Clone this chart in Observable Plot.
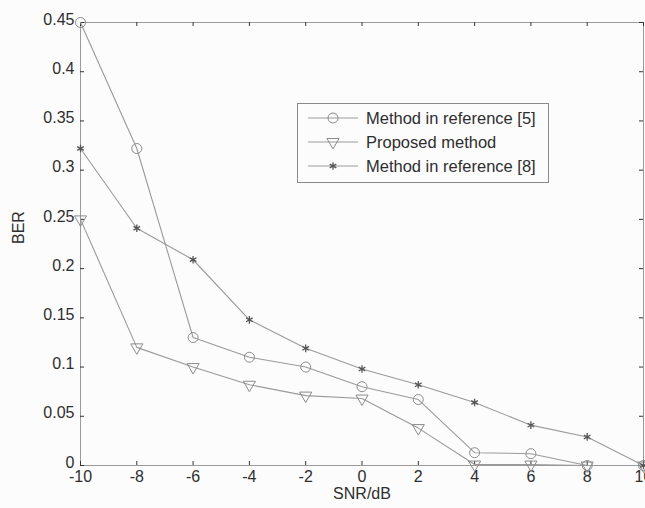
<!DOCTYPE html>
<html><head><meta charset="utf-8">
<script src="https://cdn.jsdelivr.net/npm/d3@7"></script>
<script src="https://cdn.jsdelivr.net/npm/@observablehq/plot@0.6"></script>
<style>
html,body{margin:0;padding:0;background:#fcfcfc;}
#wrap{position:relative;width:645px;height:508px;overflow:hidden;background:#fcfcfc;}
#legend{position:absolute;left:297px;top:103px;width:252px;height:80px;border:1px solid #8a8a8a;background:#fcfcfc;box-sizing:border-box;}
</style></head><body><div id="wrap"></div>
<script>
const snr = [-10, -8, -6, -4, -2, 0, 2, 4, 6, 8, 10];
const ref5 = [0.45, 0.322, 0.130, 0.110, 0.100, 0.080, 0.067, 0.013, 0.012, 0, 0];
const proposed = [0.250, 0.120, 0.100, 0.082, 0.071, 0.068, 0.038, 0.001, 0.001, 0, 0];
const ref8 = [0.322, 0.241, 0.209, 0.148, 0.119, 0.098, 0.082, 0.064, 0.041, 0.029, 0];
const seriesNames = ["Method in reference [5]", "Proposed method", "Method in reference [8]"];
const xTicks = [-10, -8, -6, -4, -2, 0, 2, 4, 6, 8, 10];
const yTicks = [0, 0.05, 0.1, 0.15, 0.2, 0.25, 0.3, 0.35, 0.4, 0.45];
const xLabel = "SNR/dB";
const yLabel = "BER";

const font = "'Liberation Sans', Arial, sans-serif";
const lineColor = "#9a9a9a";
const textColor = "#2e2e2e";
const toRows = (ys) => snr.map((x, i) => ({x, y: ys[i]}));
const d5 = toRows(ref5), dp = toRows(proposed), d8 = toRows(ref8);

const styles = [
  {symbol: "circle", stroke: "#8c8c8c", r: 5, rotate: 0},
  {symbol: "triangle", stroke: "#8c8c8c", r: 4.5, rotate: 180},
  {symbol: "asterisk", stroke: "#555", r: 3.6, rotate: 0}
];

const plot = Plot.plot({
  width: 645, height: 508,
  marginLeft: 80, marginRight: 2, marginTop: 22, marginBottom: 43,
  style: {background: "transparent", fontFamily: font, fontSize: "16px", color: textColor, overflow: "visible"},
  x: {domain: [-10, 10]},
  y: {domain: [0, 0.45]},
  marks: [
    Plot.frame({stroke: "#9a9a9a"}),
    Plot.ruleX(xTicks, {insetTop: 439, stroke: "#333", strokeWidth: 1}),
    Plot.ruleX(xTicks, {insetBottom: 439, stroke: "#333", strokeWidth: 1}),
    Plot.ruleY(yTicks, {insetRight: 559, stroke: "#333", strokeWidth: 1}),
    Plot.ruleY(yTicks, {insetLeft: 559, stroke: "#333", strokeWidth: 1}),
    Plot.axisX({ticks: xTicks, tickSize: 0, tickPadding: 5, fontSize: 16, tickFormat: d => String(d), label: null}),
    Plot.axisY({ticks: yTicks, tickSize: 0, tickPadding: 6, dy: -3, fontSize: 16, tickFormat: d => String(+d.toFixed(2)), label: null}),
    Plot.text([xLabel], {frameAnchor: "bottom", dy: 28, lineAnchor: "middle", fontSize: 16, fill: textColor}),
    Plot.text([yLabel], {frameAnchor: "left", dx: -62, rotate: -90, lineAnchor: "middle", fontSize: 16, fill: textColor}),
    Plot.line(d5, {x: "x", y: "y", stroke: lineColor, strokeWidth: 1.1}),
    Plot.line(dp, {x: "x", y: "y", stroke: lineColor, strokeWidth: 1.1}),
    Plot.line(d8, {x: "x", y: "y", stroke: lineColor, strokeWidth: 1.1}),
    Plot.dot(d5, {x: "x", y: "y", symbol: "circle", r: 5, stroke: styles[0].stroke, fill: "none", strokeWidth: 1}),
    Plot.dot(dp, {x: "x", y: "y", symbol: "triangle", r: 4.5, rotate: 180, stroke: styles[1].stroke, fill: "none", strokeWidth: 1}),
    Plot.dot(d8, {x: "x", y: "y", symbol: "asterisk", r: 3.6, stroke: styles[2].stroke, strokeWidth: 1.3})
  ]
});

const wrap = document.getElementById("wrap");
wrap.appendChild(plot);

// legend
const legend = d3.select(wrap).append("div").attr("id", "legend");
const svg = legend.append("svg").attr("width", 250).attr("height", 78).style("display", "block");
const rowY = [14, 38, 62];
const symMap = {circle: d3.symbolCircle, triangle: d3.symbolTriangle, asterisk: d3.symbolAsterisk};
seriesNames.forEach((name, i) => {
  const g = svg.append("g").attr("transform", `translate(0,${rowY[i]})`);
  g.append("line").attr("x1", 10).attr("x2", 60).attr("stroke", lineColor).attr("stroke-width", 1.1);
  const s = styles[i];
  g.append("path")
    .attr("d", d3.symbol(symMap[s.symbol], s.r * s.r * Math.PI)())
    .attr("transform", `translate(35,0) rotate(${s.rotate})`)
    .attr("fill", "none").attr("stroke", s.stroke).attr("stroke-width", i === 2 ? 1.3 : 1);
  g.append("text").attr("x", 68).attr("dy", "0.35em")
    .attr("font-family", font).attr("font-size", 16.5).attr("fill", textColor).text(name);
});
</script>
</body></html>
